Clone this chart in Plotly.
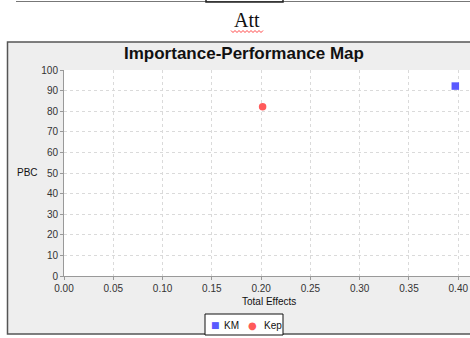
import plotly.graph_objects as go

# Data
series_names = ["KM", "Kep"]
total_effects = [0.397, 0.2015]
performance = [92.2, 82.2]
marker_colors = ["#5a5aff", "#ff5a5a"]
marker_symbols = ["square", "circle"]
legend_glyphs = ["■", "●"]

W, H = 470, 338
L, R, T, B = 64, 0, 70, 62
PW, PH = W - L - R, H - T - B

fig = go.Figure()
for name, xv, yv, c, s in zip(series_names, total_effects, performance, marker_colors, marker_symbols):
    fig.add_trace(go.Scatter(x=[xv], y=[yv], mode="markers", name=name, showlegend=False,
                             marker=dict(color=c, symbol=s, size=7.5, line=dict(width=0))))

def px(x):
    return (x - L) / PW

def py(y):
    return (H - B - y) / PH

axis_common = dict(showline=True, linecolor="#999999", linewidth=1,
                   ticks="outside", ticklen=3, tickcolor="#999999",
                   showgrid=True, gridcolor="#dadada", griddash="dot", gridwidth=1,
                   zeroline=False, tickfont=dict(family="Liberation Sans, Arial", size=10, color="#333333"))

fig.update_xaxes(range=[0, 0.4119], dtick=0.05, tick0=0, tickformat=".2f", **axis_common)
fig.update_yaxes(range=[0, 100], dtick=10, tick0=0, **axis_common)

shapes = [
    # chart box
    dict(type="rect", xref="paper", yref="paper", x0=px(7.5), x1=px(480), y0=py(334), y1=py(42),
         fillcolor="#eeeeee", line=dict(color="#555555", width=1.5), layer="below"),
    # plot area
    dict(type="rect", xref="paper", yref="paper", x0=0, x1=1, y0=0, y1=1,
         fillcolor="white", line=dict(width=0), layer="below"),
    # top document lines
    dict(type="line", xref="paper", yref="paper", x0=px(16), x1=px(470), y0=py(1.5), y1=py(1.5),
         line=dict(color="#777777", width=1.2)),
    dict(type="rect", xref="paper", yref="paper", x0=px(206), x1=px(283), y0=py(2), y1=py(-2),
         fillcolor="rgba(0,0,0,0)", line=dict(color="#222222", width=1.5)),
    # legend box
    dict(type="rect", xref="paper", yref="paper", x0=px(205), x1=px(283), y0=py(335), y1=py(314),
         fillcolor="white", line=dict(color="#111111", width=1)),
]

# spell-check squiggle under "Att"
zig = []
x0s, x1s = 231.0, 264.0
xx = x0s
up = True
while xx <= x1s:
    zig.append((px(xx), py(30.5 if up else 32.5)))
    xx += 2.0
    up = not up
path = "M " + " L ".join(f"{a},{b}" for a, b in zig)
shapes.append(dict(type="path", xref="paper", yref="paper", path=path,
                   line=dict(color="#ff3030", width=0.9)))

font_main = "Liberation Sans, Arial"
annotations = [
    dict(text="Att", xref="paper", yref="paper", x=px(247), y=py(20), showarrow=False,
         font=dict(family="Liberation Serif, Times New Roman", size=20, color="#111111"),
         xanchor="center", yanchor="middle"),
    dict(text="<b>Importance-Performance Map</b>", xref="paper", yref="paper", x=px(244), y=py(53),
         showarrow=False, font=dict(family=font_main, size=17, color="#111111"),
         xanchor="center", yanchor="middle"),
    dict(text="Total Effects", xref="paper", yref="paper", x=px(269), y=py(301),
         showarrow=False, font=dict(family=font_main, size=10, color="#111111"),
         xanchor="center", yanchor="middle"),
    dict(text="PBC", xref="paper", yref="paper", x=px(27), y=py(172.5),
         showarrow=False, font=dict(family=font_main, size=10, color="#111111"),
         xanchor="center", yanchor="middle"),
]

# legend entries
leg_sym_x = [215.5, 252]
leg_txt_x = [222, 262]
for name, c, g, sx, tx in zip(series_names, marker_colors, legend_glyphs, leg_sym_x, leg_txt_x):
    annotations.append(dict(text=g, xref="paper", yref="paper", x=px(sx), y=py(325), showarrow=False,
                            font=dict(family="DejaVu Sans", size=9 if g == "■" else 10, color=c),
                            xanchor="center", yanchor="middle"))
    annotations.append(dict(text=name, xref="paper", yref="paper", x=px(tx), y=py(325), showarrow=False,
                            font=dict(family=font_main, size=10, color="#111111"),
                            xanchor="left", yanchor="middle"))

fig.update_layout(
    width=W, height=H,
    margin=dict(l=L, r=R, t=T, b=B, pad=0, autoexpand=False),
    paper_bgcolor="white", plot_bgcolor="white",
    shapes=shapes, annotations=annotations,
    showlegend=False,
)

fig.write_html("out.html", config={"displayModeBar": False},
               post_script="document.body.style.margin='0';")
